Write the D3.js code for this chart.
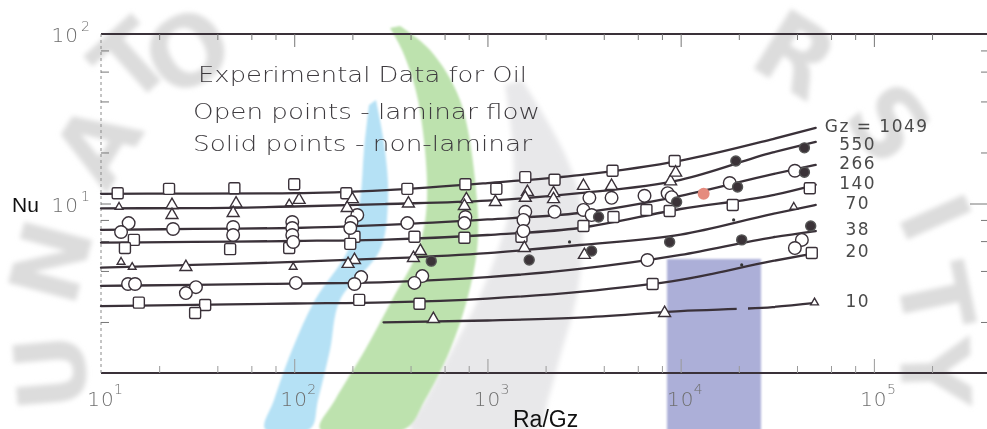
<!DOCTYPE html>
<html>
<head>
<meta charset="utf-8">
<script src="https://cdn.jsdelivr.net/npm/d3@7"></script>
<style>
  html, body { margin: 0; padding: 0; background: #fff; }
  svg { display: block; }
</style>
</head>
<body>
<svg id="chart" width="987" height="429"></svg>
<script>
// ---- correlation curves: Nu versus Ra/Gz for each Graetz number ----
const raGz = [10, 30, 100, 300, 1000, 3000, 10000, 30000, 50000];
const gzNames = ["Gz = 1049", "550", "266", "140", "70", "38", "20", "10"];
const nu1049 = [11.4, 11.45, 11.5, 12.0, 13.2, 14.7, 17.9, 24.0, 27.9];
const nu550  = [9.37, 9.40, 9.60, 9.93, 10.4, 11.5, 13.8, 20.0, 23.1];
const nu266  = [6.98, 7.08, 7.17, 7.47, 8.05, 8.79, 11.1, 14.9, 16.9];
const nu140  = [5.87, 5.93, 6.01, 6.13, 6.52, 7.17, 9.28, 11.2, 12.9];
const nu70   = [4.18, 4.34, 4.52, 4.74, 5.10, 5.69, 6.56, 8.69, 9.80];
const nu38   = [3.27, 3.31, 3.37, 3.44, 3.68, 4.11, 4.97, 6.32, 6.88];
const nu20   = [2.48, 2.52, 2.57, 2.61, 2.75, 3.01, 3.54, 4.58, 5.10];
const raGz10 = [290, 1000, 3000, 10000, 30000, 50000];
const nu10   = [1.99, 2.04, 2.12, 2.32, 2.45, 2.59];
// the Gz = 10 line is broken over this Ra/Gz interval
const gap10 = [19500, 22300];

// ---- experimental points [Ra/Gz, Nu] ----
const openSquares = [
  [12.2, 11.5], [22.5, 12.2], [49.0, 12.3], [100, 13.0], [186, 11.5], [385, 12.2],
  [769, 13.0], [1112, 12.2], [1570, 14.3], [2225, 13.8], [4440, 15.6], [9310, 17.8],
  [14.8, 6.10], [13.3, 5.46], [46.6, 5.38], [94.2, 5.46], [205, 6.37], [195, 5.78],
  [419, 6.37], [760, 6.28], [1500, 6.37], [4490, 8.32], [6650, 9.16], [8770, 9.04],
  [18600, 9.80], [46600, 12.3], [3140, 7.36],
  [15.7, 2.60], [34.6, 2.52], [30.7, 2.26], [217, 2.70], [445, 2.56], [7160, 3.35],
  [47700, 5.10]
];
const openCircles = [
  [13.9, 7.66], [12.7, 6.79], [23.6, 7.07], [48.3, 7.26], [48.3, 6.52], [97.7, 7.78],
  [97.7, 7.17], [97.7, 6.52], [212, 8.55], [198, 7.78], [195, 7.17], [385, 7.66],
  [769, 8.32], [760, 7.66], [1570, 8.93], [1536, 8.00], [2225, 8.93], [3370, 10.8],
  [4390, 10.8], [6500, 11.1], [8560, 11.5], [8980, 10.9], [17950, 13.2], [39000, 15.6],
  [98.8, 5.93], [1536, 6.88], [3140, 9.16], [3460, 8.55],
  [13.8, 3.35], [15.0, 3.35], [31.0, 3.21], [27.5, 2.96], [102, 3.40], [222, 3.68],
  [205, 3.35], [460, 3.73], [419, 3.40], [6730, 4.64], [42400, 6.10], [39000, 5.46]
];
const openTriangles = [
  [106, 10.5], [23.3, 9.80], [23.3, 8.55], [50.0, 10.0], [48.3, 8.79], [200, 10.6],
  [188, 9.40], [390, 10.0], [778, 10.6], [760, 9.66], [1099, 10.2], [1610, 11.7],
  [1570, 10.8], [2198, 11.5], [2198, 10.6], [3140, 12.7], [4390, 12.7], [8870, 13.5],
  [9420, 15.2], [27.5, 4.22], [205, 4.64], [190, 4.40], [414, 4.77], [450, 5.24],
  [1553, 5.46], [3175, 4.97], [525, 2.08], [8260, 2.26]
];
const smallTriangles = [
  [12.4, 9.54], [94.2, 10.0], [12.7, 4.52], [14.5, 4.22], [98.8, 4.22], [38500, 9.54],
  [49300, 2.60]
];
const solidPoints = [
  [19300, 17.8], [43700, 21.3], [9530, 10.2], [19700, 12.5], [43700, 15.3], [3760, 8.32],
  [512, 4.57], [1645, 4.64], [3460, 5.24], [8770, 5.93], [20700, 6.10], [47100, 7.36]
];
const redPoints = [[13150, 11.4]];
const tinyDots = [[2660, 5.93], [18800, 8.00], [20700, 4.34]];

// ---- axes ----
const xDomain = [10, 385000];
const yDomain = [1, 100];
const xMajor = [10, 100, 1000, 10000, 100000];
const xExponents = ["1", "2", "3", "4", "5"];
const minorMult = [2, 4, 6, 8];

const svg = d3.select("#chart");
const W = 987, H = 429;
const plotL = 101, plotR = 987, plotT = 34, plotB = 373;

const x = d3.scaleLog().domain(xDomain).range([plotL, plotR]);
const y = d3.scaleLog().domain(yDomain).range([plotB, plotT]);

const ink = "#3a3139";
const greyInk = "#6f6f6f";
const letterFont = "'DejaVu Sans', 'Liberation Sans', sans-serif";

// ---------- background watermark ----------
const defs = svg.append("defs");
defs.append("filter").attr("id", "soft").attr("x", "-20%").attr("y", "-20%")
  .attr("width", "140%").attr("height", "140%")
  .append("feGaussianBlur").attr("stdDeviation", 2.4);
defs.append("filter").attr("id", "soft1")
  .append("feGaussianBlur").attr("stdDeviation", 1.2);

const wm = svg.append("g").attr("class", "watermark");
const band = d3.line().curve(d3.curveCatmullRom);
function swoosh(leftEdge, rightEdge) {
  return band(leftEdge.concat(rightEdge.slice().reverse())) + "Z";
}
// grey band
wm.append("path")
  .attr("d", swoosh(
    [[505, 85], [513, 150], [512, 200], [498, 250], [478, 300], [452, 350], [425, 400], [410, 429]],
    [[522, 80], [563, 150], [580, 200], [582, 250], [576, 300], [562, 350], [548, 400], [538, 429]]))
  .attr("fill", "#e8e8ea").attr("filter", "url(#soft)");
// green band
wm.append("path")
  .attr("d", swoosh(
    [[390, 28], [402, 50], [418, 100], [427, 200], [418, 250], [392, 300], [365, 350], [335, 400], [320, 429]],
    [[400, 26], [430, 50], [460, 100], [477, 200], [477, 250], [467, 300], [450, 350], [425, 400], [405, 429]]))
  .attr("fill", "#bde2ae").attr("filter", "url(#soft1)");
// blue band
wm.append("path")
  .attr("d", swoosh(
    [[369, 105], [364, 150], [360, 200], [348, 250], [315, 300], [292, 350], [274, 400], [265, 429]],
    [[376, 100], [385, 150], [388, 200], [380, 250], [340, 300], [330, 350], [318, 400], [310, 429]]))
  .attr("fill", "#b5e1f5").attr("filter", "url(#soft1)");
// lavender block
wm.append("rect")
  .attr("x", 667).attr("y", 259).attr("width", 94).attr("height", 180)
  .attr("fill", "#acafd8").attr("filter", "url(#soft1)");

// seal lettering, kept inside the canvas
const sealLetters = [
  ["U", 52, 372, -95], ["N", 52, 262, -75], ["A", 98, 145, -58], ["T", 132, 62, -42],
  ["O", 188, 52, -30], ["R", 795, 56, 32], ["S", 888, 124, 52], ["I", 934, 218, 66],
  ["T", 934, 298, 78], ["Y", 934, 372, 88]
];
wm.append("g").attr("filter", "url(#soft)")
  .selectAll("text").data(sealLetters).join("text")
  .attr("transform", d => `translate(${d[1]},${d[2]}) rotate(${d[3]})`)
  .attr("text-anchor", "middle").attr("dominant-baseline", "central")
  .attr("font-family", "'DejaVu Sans', sans-serif").attr("font-weight", "bold")
  .attr("font-size", 96).attr("fill", "#dcdcdc")
  .text(d => d[0]);

// ---------- frame ----------
const frame = svg.append("g");
frame.append("line").attr("x1", plotL).attr("x2", plotR).attr("y1", plotT).attr("y2", plotT)
  .attr("stroke", ink).attr("stroke-width", 2);
frame.append("line").attr("x1", plotL).attr("x2", plotR).attr("y1", plotB).attr("y2", plotB)
  .attr("stroke", ink).attr("stroke-width", 1.8);
frame.append("line").attr("x1", plotL).attr("x2", plotL).attr("y1", plotT).attr("y2", plotB)
  .attr("stroke", "#8a8a8a").attr("stroke-width", 1).attr("stroke-dasharray", "3,3");

// ticks via d3 axes: minor ticks (2,4,6,8 per decade) + decade ticks
const xMinor = [];
for (const d of xMajor.slice(0, -1)) for (const m of minorMult) xMinor.push(d * m);
xMinor.push(200000);
const yMinor = [];
for (const d of [1, 10]) for (const m of minorMult) yMinor.push(d * m);

function tickAxis(axisGen, ticks, size, tx, ty, color, width) {
  const g = svg.append("g").attr("transform", `translate(${tx},${ty})`)
    .call(axisGen.tickValues(ticks).tickSize(size).tickFormat(""));
  g.select(".domain").remove();
  g.selectAll(".tick line").attr("stroke", color).attr("stroke-width", width);
  return g;
}
// top (ticks pointing down into the plot)
tickAxis(d3.axisBottom(x), xMinor, 6, 0, plotT, "#777", 1);
tickAxis(d3.axisBottom(x), xMajor.slice(1), 13, 0, plotT, "#777", 1);
// bottom (ticks pointing up)
tickAxis(d3.axisTop(x), xMinor, 7, 0, plotB, "#9a9a9a", 1);
tickAxis(d3.axisTop(x), xMajor.slice(1), 14, 0, plotB, "#9a9a9a", 1);
// left (ticks pointing right)
tickAxis(d3.axisRight(y), yMinor, 8, plotL, 0, "#777", 1);
tickAxis(d3.axisRight(y), [10], 10, plotL, 0, "#777", 1);
// right (ticks pointing left)
tickAxis(d3.axisLeft(y), yMinor, 6, plotR, 0, "#777", 1);
tickAxis(d3.axisLeft(y), [10], 17, plotR, 0, "#777", 1);

// ---------- tick labels ----------
const tickFont = "'DejaVu Sans', sans-serif";
const xl = svg.append("g").attr("font-family", tickFont).attr("fill", greyInk);
xMajor.forEach((v, i) => {
  xl.append("text").attr("x", x(v)).attr("y", 406)
    .attr("text-anchor", "middle").attr("font-size", 20).attr("font-weight", 300)
    .attr("letter-spacing", 1).text("10");
  xl.append("text").attr("x", x(v) + 13).attr("y", 394)
    .attr("font-size", 14).attr("font-weight", 300).text(xExponents[i]);
});
const yl = svg.append("g").attr("font-family", tickFont).attr("fill", greyInk);
[[100, "2"], [10, "1"]].forEach(([v, e]) => {
  yl.append("text").attr("x", 79).attr("y", y(v) + 8).attr("text-anchor", "end")
    .attr("font-size", 20).attr("font-weight", 300).attr("letter-spacing", 1).text("10");
  yl.append("text").attr("x", 81).attr("y", y(v) - 3)
    .attr("font-size", 14).attr("font-weight", 300).text(e);
});

// axis titles
svg.append("text").attr("x", 12).attr("y", y(10) + 8)
  .attr("font-family", "'Liberation Sans', Arial, sans-serif").attr("font-size", 21)
  .attr("fill", "#111").text("Nu");
svg.append("text").attr("x", 513).attr("y", 427)
  .attr("font-family", "'Liberation Sans', Arial, sans-serif").attr("font-size", 23)
  .attr("fill", "#111").text("Ra/Gz");

// ---------- annotation ----------
const notes = [
  ["Experimental Data for Oil", 198, 82, 329],
  ["Open points - laminar flow", 193, 119, 347],
  ["Solid points - non-laminar", 193, 151, 339]
];
svg.append("g").selectAll("text").data(notes).join("text")
  .attr("x", d => d[1]).attr("y", d => d[2])
  .attr("textLength", d => d[3]).attr("lengthAdjust", "spacingAndGlyphs")
  .attr("font-family", letterFont).attr("font-size", 22).attr("font-weight", 300)
  .attr("fill", "#3d3a3e").text(d => d[0]);

// ---------- curves ----------
const curveSeries = [nu1049, nu550, nu266, nu140, nu70, nu38, nu20]
  .map(vals => vals.map((v, i) => [raGz[i], v]));
const series10 = nu10.map((v, i) => [raGz10[i], v]);

const line = d3.line().x(d => x(d[0])).y(d => y(d[1])).curve(d3.curveMonotoneX);
const curves = svg.append("g").attr("fill", "none").attr("stroke", ink)
  .attr("stroke-width", 2.3).attr("stroke-linecap", "round");
curves.selectAll("path.gz").data(curveSeries).join("path")
  .attr("class", "gz").attr("d", line);

defs.append("clipPath").attr("id", "before-gap").append("rect")
  .attr("x", 0).attr("y", 0).attr("width", x(gap10[0])).attr("height", H);
defs.append("clipPath").attr("id", "after-gap").append("rect")
  .attr("x", x(gap10[1])).attr("y", 0).attr("width", W - x(gap10[1])).attr("height", H);
curves.append("path").attr("d", line(series10)).attr("clip-path", "url(#before-gap)");
curves.append("path").attr("d", line(series10)).attr("clip-path", "url(#after-gap)");

// curve labels at the right-hand ends, nudged apart so they never collide
const ends = curveSeries.concat([series10]).map(s => s[s.length - 1]);
const labelY = [];
ends.forEach((e, i) => {
  let yy = y(e[1]) + 4;
  if (i > 0) yy = Math.max(yy, labelY[i - 1] + 18.5);
  labelY.push(yy);
});
svg.append("g").attr("font-family", tickFont).attr("font-size", 17).attr("fill", "#4a4a4a")
  .selectAll("text").data(gzNames).join("text")
  .attr("x", (d, i) => i === 0 ? x(ends[i][0]) + 9 : x(ends[i][0]) + 42)
  .attr("y", (d, i) => labelY[i])
  .attr("text-anchor", (d, i) => i === 0 ? "start" : "middle")
  .attr("letter-spacing", 1.5)
  .text(d => d);

// ---------- markers ----------
const pts = svg.append("g").attr("stroke", ink).attr("stroke-width", 1.4);
pts.selectAll("rect.sq").data(openSquares).join("rect").attr("class", "sq")
  .attr("x", d => x(d[0]) - 5.5).attr("y", d => y(d[1]) - 5.5)
  .attr("width", 11).attr("height", 11).attr("rx", 1.5).attr("fill", "#fff");
pts.selectAll("circle.oc").data(openCircles).join("circle").attr("class", "oc")
  .attr("cx", d => x(d[0])).attr("cy", d => y(d[1])).attr("r", 6.3).attr("fill", "#fff");
pts.selectAll("path.tr").data(openTriangles).join("path").attr("class", "tr")
  .attr("transform", d => `translate(${x(d[0])},${y(d[1])})`)
  .attr("d", d3.symbol().type(d3.symbolTriangle).size(62)()).attr("fill", "#fff");
pts.selectAll("path.st").data(smallTriangles).join("path").attr("class", "st")
  .attr("transform", d => `translate(${x(d[0])},${y(d[1])})`)
  .attr("d", d3.symbol().type(d3.symbolTriangle).size(26)()).attr("fill", "#fff");
pts.selectAll("circle.sp").data(solidPoints).join("circle").attr("class", "sp")
  .attr("cx", d => x(d[0])).attr("cy", d => y(d[1])).attr("r", 5)
  .attr("fill", "#3b3338").attr("stroke", "#555");
pts.selectAll("circle.rp").data(redPoints).join("circle").attr("class", "rp")
  .attr("cx", d => x(d[0])).attr("cy", d => y(d[1])).attr("r", 6)
  .attr("fill", "#e58b7e").attr("stroke", "none");
pts.selectAll("circle.td").data(tinyDots).join("circle").attr("class", "td")
  .attr("cx", d => x(d[0])).attr("cy", d => y(d[1])).attr("r", 1.6)
  .attr("fill", "#333").attr("stroke", "none");
</script>
</body>
</html>
